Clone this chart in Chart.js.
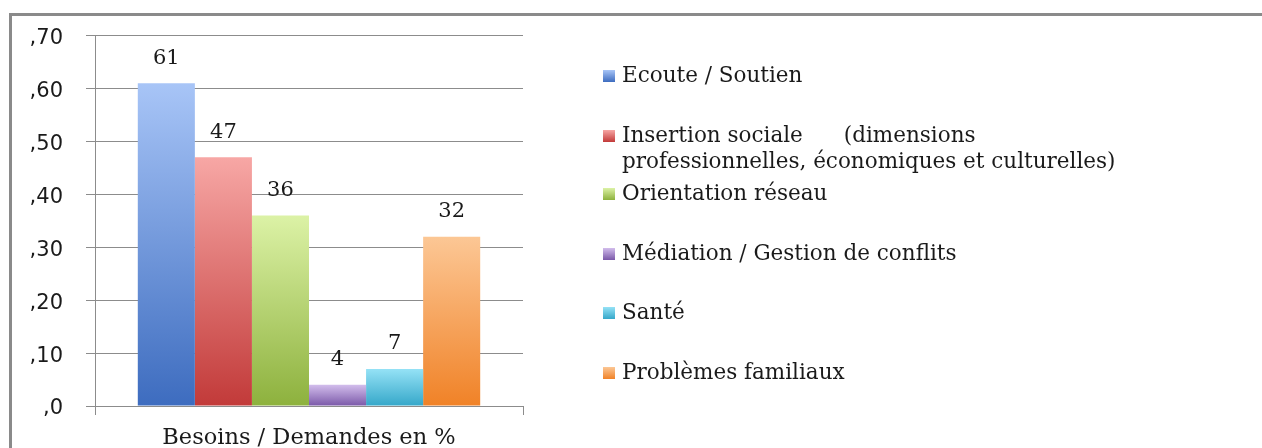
<!DOCTYPE html>
<html><head><meta charset="utf-8">
<script src="https://cdn.jsdelivr.net/npm/chart.js@4.4.1/dist/chart.umd.min.js"></script>
<style>
html,body{margin:0;padding:0;background:#fff;width:1262px;height:448px;overflow:hidden;}
#frame{position:absolute;left:9px;top:13px;width:1300px;height:500px;border:3px solid #8a8a8a;box-sizing:border-box;}
#wrap{position:absolute;left:0;top:0;width:1262px;height:448px;}
#legend{position:absolute;left:0;top:0;font-family:"DejaVu Serif",serif;font-size:21.5px;color:#1a1a1a;}
.li{position:absolute;white-space:pre;line-height:26px;}
.mk{position:absolute;width:12px;height:12px;left:-19px;top:8px;}
</style></head>
<body>
<div id="frame"></div>
<div id="wrap"><canvas id="c" width="1262" height="448"></canvas></div>
<div id="legend"></div>
<script>
const categories = ['Besoins / Demandes en %'];
const seriesLabels = ['Ecoute / Soutien', 'Insertion sociale', 'Orientation réseau', 'Médiation / Gestion de conflits', 'Santé', 'Problèmes familiaux'];
const legendTexts = ['Ecoute / Soutien', 'Insertion sociale      (dimensions\nprofessionnelles, économiques et culturelles)', 'Orientation réseau', 'Médiation / Gestion de conflits', 'Santé', 'Problèmes familiaux'];
const values = [0.61, 0.47, 0.36, 0.04, 0.07, 0.32];
const valueLabels = ['61', '47', '36', '4', '7', '32'];
const yTickLabels = [',0', ',10', ',20', ',30', ',40', ',50', ',60', ',70'];
const topColors = ['#a8c5f7', '#f7a7a5', '#dcf2a6', '#d2bdec', '#95e2f6', '#fcc795'];
const bottomColors = ['#3d6cbf', '#c23a39', '#8db13d', '#7a58a8', '#35a7c9', '#f08227'];

function barGradient(i) {
  return function(ctx) {
    const chart = ctx.chart;
    if (!chart.chartArea || !chart.scales.y) return bottomColors[i];
    const y = chart.scales.y;
    const top = y.getPixelForValue(values[i]);
    const base = y.getPixelForValue(0);
    const g = chart.ctx.createLinearGradient(0, top, 0, base);
    g.addColorStop(0, topColors[i]);
    g.addColorStop(1, bottomColors[i]);
    return g;
  };
}

const datasets = seriesLabels.map((lab, i) => ({
  label: lab,
  data: [values[i]],
  backgroundColor: barGradient(i),
  borderWidth: 0,
  barPercentage: 1.0,
  categoryPercentage: 0.8
}));

const valueLabelPlugin = {
  id: 'valueLabels',
  afterDatasetsDraw(chart) {
    const ctx = chart.ctx;
    ctx.save();
    ctx.font = '21px "DejaVu Serif"';
    ctx.fillStyle = '#1a1a1a';
    ctx.textAlign = 'center';
    ctx.textBaseline = 'middle';
    chart.data.datasets.forEach((ds, i) => {
      const el = chart.getDatasetMeta(i).data[0];
      ctx.fillText(valueLabels[i], el.x, el.y - 25);
    });
    ctx.restore();
  }
};

const chart = new Chart(document.getElementById('c'), {
  type: 'bar',
  data: { labels: categories, datasets: datasets },
  options: {
    responsive: false,
    animation: false,
    layout: { padding: { left: 0, top: 35, right: 739, bottom: 0 } },
    plugins: { legend: { display: false }, tooltip: { enabled: false } },
    scales: {
      x: {
        grid: { display: true, drawOnChartArea: false, drawTicks: true, tickLength: 9, color: '#8c8c8c', offset: true },
        border: { display: false },
        ticks: { font: { family: 'DejaVu Serif', size: 22.5 }, color: '#1a1a1a', padding: 10 },
        afterFit: s => { s.height = 42; }
      },
      y: {
        min: 0, max: 0.7,
        ticks: { stepSize: 0.1, callback: (v, i) => yTickLabels[i], font: { family: 'DejaVu Sans', size: 21 }, color: '#1a1a1a', padding: 23, labelOffset: 3 },
        grid: { color: '#8c8c8c', tickLength: 9 },
        border: { color: '#8c8c8c' },
        afterFit: s => { s.width = 95; }
      }
    }
  },
  plugins: [valueLabelPlugin]
});

const legendTops = [62, 122, 180, 240, 299, 359];
const leg = document.getElementById('legend');
legendTexts.forEach((t, i) => {
  const d = document.createElement('div');
  d.className = 'li';
  d.style.left = '622px';
  d.style.top = legendTops[i] + 'px';
  d.textContent = t;
  const m = document.createElement('div');
  m.className = 'mk';
  m.style.background = 'linear-gradient(' + topColors[i] + ',' + bottomColors[i] + ')';
  d.appendChild(m);
  leg.appendChild(d);
});
</script>
</body></html>
